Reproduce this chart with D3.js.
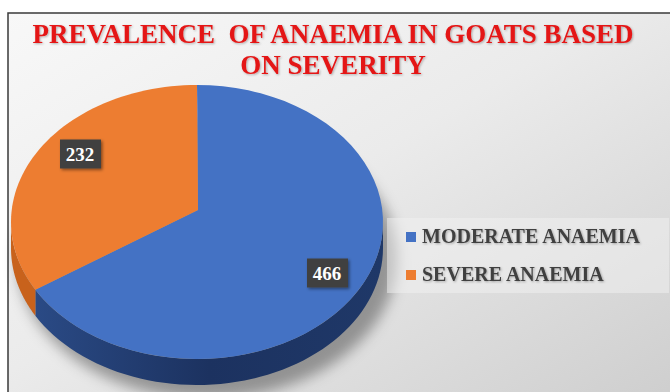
<!DOCTYPE html>
<html><head><meta charset="utf-8">
<script src="https://cdn.jsdelivr.net/npm/d3@7"></script>
<style>html,body{margin:0;padding:0;background:#fff;}svg{display:block;}
.serif{font-family:"Liberation Serif","DejaVu Serif","Noto Serif",serif;font-weight:bold;}
</style>
</head><body>
<svg id="chart" width="670" height="392"></svg>
<script>
const categories = ["MODERATE ANAEMIA", "SEVERE ANAEMIA"];
const values = [466, 232];
const colors = ["#4472c4", "#ed7d31"];
const sideColors = ["#203b70", "#c8621c"];
const titleLines = ["PREVALENCE  OF ANAEMIA IN GOATS BASED", "ON SEVERITY"];

const svg = d3.select("#chart");
const defs = svg.append("defs");

const bg = defs.append("linearGradient").attr("id","bg").attr("x1","0").attr("y1","0").attr("x2","1").attr("y2","1");
bg.append("stop").attr("offset","0").attr("stop-color","#f8f8f8");
bg.append("stop").attr("offset","0.45").attr("stop-color","#ebebeb");
bg.append("stop").attr("offset","1").attr("stop-color","#cdcdcd");

const sideGrad = defs.append("linearGradient").attr("id","sideBlue").attr("x1","0").attr("y1","0").attr("x2","1").attr("y2","0");
sideGrad.append("stop").attr("offset","0").attr("stop-color","#2a4a85");
sideGrad.append("stop").attr("offset","0.5").attr("stop-color","#1c3260");
sideGrad.append("stop").attr("offset","1").attr("stop-color","#1f3868");

const blur = defs.append("filter").attr("id","shadow").attr("x","-20%").attr("y","-20%").attr("width","140%").attr("height","140%");
blur.append("feGaussianBlur").attr("stdDeviation", 7);

const ds = defs.append("filter").attr("id","ds").attr("x","-30%").attr("y","-30%").attr("width","160%").attr("height","160%");
ds.append("feDropShadow").attr("dx",1.5).attr("dy",1.5).attr("stdDeviation",1.5).attr("flood-color","#000").attr("flood-opacity",0.45);

const ts = defs.append("filter").attr("id","ts").attr("x","-10%").attr("y","-30%").attr("width","120%").attr("height","160%");
ts.append("feDropShadow").attr("dx",1).attr("dy",1).attr("stdDeviation",0.8).attr("flood-color","#000").attr("flood-opacity",0.3);

// frame
svg.append("rect").attr("x",8).attr("y",13).attr("width",670).attr("height",400)
  .attr("fill","url(#bg)").attr("stroke","#3a3a3a").attr("stroke-width",1.5);

// title
const title = svg.append("text").attr("class","serif").attr("text-anchor","middle")
  .attr("font-size",27).attr("fill","#e41414").attr("filter","url(#ts)");
titleLines.forEach((t,i)=>{
  title.append("tspan").attr("x",333).attr("y",43 + i*31).attr("xml:space","preserve").text(t);
});

// pie geometry
const cx = 197, cy = 222, rx = 186, ry = 137, depth = 26;
const apex = [198, 210];
const pie = d3.pie().sort(null).startAngle(0).endAngle(2*Math.PI)(values);
const pt = (a, dy=0) => [cx + rx*Math.sin(a), cy - ry*Math.cos(a) + dy];
const arcPts = (a0, a1, dy=0) => d3.range(0, 61).map(i => pt(a0 + (a1-a0)*i/60, dy));
const line = d3.line();

// shadow
svg.append("ellipse").attr("cx",cx+10).attr("cy",cy+depth+10).attr("rx",rx+4).attr("ry",ry+4)
  .attr("fill","rgba(0,0,0,0.35)").attr("filter","url(#shadow)");

// side walls (visible front half)
pie.forEach((d,i)=>{
  const a0 = Math.max(d.startAngle, Math.PI/2), a1 = Math.min(d.endAngle, 3*Math.PI/2);
  if (a1 <= a0) return;
  const top = arcPts(a0, a1), bot = arcPts(a1, a0, depth);
  svg.append("path").attr("d", line(top.concat(bot)) + "Z")
    .attr("fill", i===0 ? "url(#sideBlue)" : sideColors[i]);
});

// top faces
pie.forEach((d,i)=>{
  const pts = [apex].concat(arcPts(d.startAngle, d.endAngle));
  svg.append("path").attr("d", line(pts) + "Z").attr("fill", colors[i]);
});

// data labels
const labelPos = [[327, 273], [80, 154]];
pie.forEach((d,i)=>{
  const g = svg.append("g").attr("transform", `translate(${labelPos[i][0]},${labelPos[i][1]})`);
  g.append("rect").attr("x",-20).attr("y",-14.5).attr("width",41).attr("height",29)
    .attr("fill","#404040").attr("filter","url(#ds)");
  g.append("text").attr("class","serif").attr("text-anchor","middle").attr("y",6.5)
    .attr("font-size",19).attr("fill","#ffffff").text(d.data);
});

// legend
svg.append("rect").attr("x",387).attr("y",218).attr("width",282).attr("height",75).attr("fill","#f2f2f2").attr("opacity",0.5);
categories.forEach((c,i)=>{
  const y = 243 + i*38;
  svg.append("rect").attr("x",406).attr("y",y-11).attr("width",10).attr("height",10).attr("fill",colors[i]);
  svg.append("text").attr("class","serif").attr("x",422).attr("y",y)
    .attr("font-size",20).attr("fill","#404040").attr("filter","url(#ts)").text(c);
});
</script>
</body></html>
